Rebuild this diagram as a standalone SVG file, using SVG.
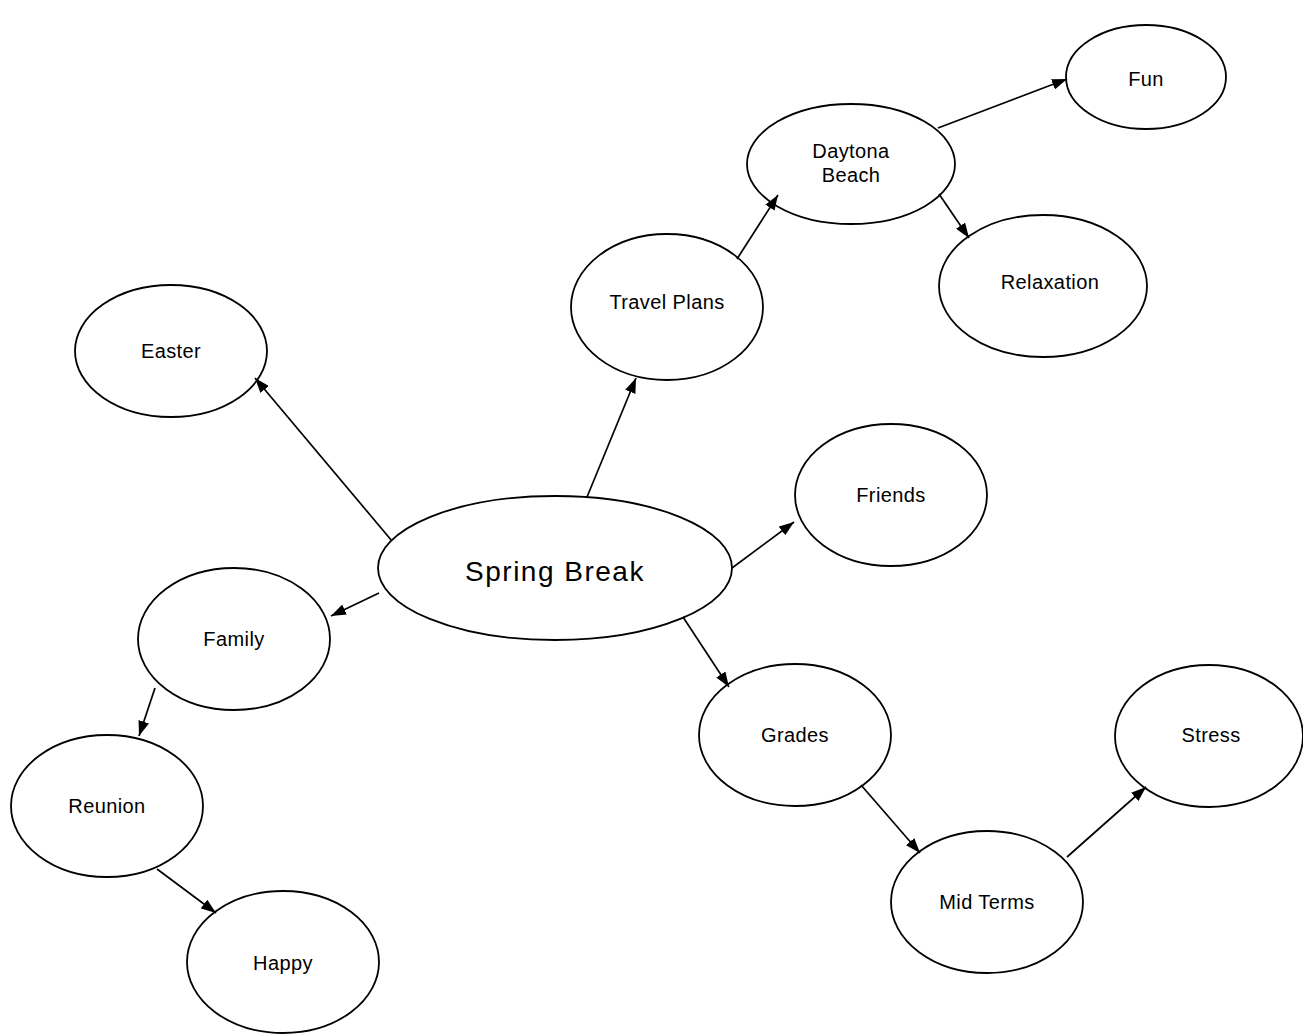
<svg xmlns="http://www.w3.org/2000/svg" width="1303" height="1034" viewBox="0 0 1303 1034">
<style>
.n{fill:#fff;stroke:#000;stroke-width:1.8}
.t{font-family:"Liberation Sans",Arial,sans-serif;font-size:20px;letter-spacing:0.4px;text-anchor:middle;fill:#000}
.big{font-size:28px;letter-spacing:1.5px}
.c line{stroke:#000;stroke-width:1.7;marker-end:url(#ah)}
</style>
<defs>
<marker id="ah" viewBox="0 0 15 11" refX="15" refY="5.5" markerWidth="15" markerHeight="11" markerUnits="userSpaceOnUse" orient="auto">
<path d="M0,0 L15,5.5 L0,11 z" fill="#000"/>
</marker>
</defs>
<rect width="1303" height="1034" fill="#fff"/>
<g id="spring-break"><ellipse class="n" cx="555" cy="568" rx="177" ry="72"/><text class="t big" x="555" y="581">Spring Break</text></g>
<g id="easter"><ellipse class="n" cx="171" cy="351" rx="96" ry="66"/><text class="t" x="171" y="358">Easter</text></g>
<g id="travel-plans"><ellipse class="n" cx="667" cy="307" rx="96" ry="73"/><text class="t" x="667" y="309">Travel Plans</text></g>
<g id="daytona-beach"><ellipse class="n" cx="851" cy="164" rx="104" ry="60"/><text class="t" x="851" y="158">Daytona</text><text class="t" x="851" y="182">Beach</text></g>
<g id="fun"><ellipse class="n" cx="1146" cy="77" rx="80" ry="52"/><text class="t" x="1146" y="86">Fun</text></g>
<g id="relaxation"><ellipse class="n" cx="1043" cy="286" rx="104" ry="71"/><text class="t" x="1050" y="289">Relaxation</text></g>
<g id="friends"><ellipse class="n" cx="891" cy="495" rx="96" ry="71"/><text class="t" x="891" y="502">Friends</text></g>
<g id="family"><ellipse class="n" cx="234" cy="639" rx="96" ry="71"/><text class="t" x="234" y="646">Family</text></g>
<g id="reunion"><ellipse class="n" cx="107" cy="806" rx="96" ry="71"/><text class="t" x="107" y="813">Reunion</text></g>
<g id="happy"><ellipse class="n" cx="283" cy="962" rx="96" ry="71"/><text class="t" x="283" y="970">Happy</text></g>
<g id="grades"><ellipse class="n" cx="795" cy="735" rx="96" ry="71"/><text class="t" x="795" y="742">Grades</text></g>
<g id="stress"><ellipse class="n" cx="1209" cy="736" rx="94" ry="71"/><text class="t" x="1211" y="742">Stress</text></g>
<g id="mid-terms"><ellipse class="n" cx="987" cy="902" rx="96" ry="71"/><text class="t" x="987" y="909">Mid Terms</text></g>
<g class="c" id="connectors">
<line x1="392" y1="541" x2="255" y2="378"/>
<line x1="587" y1="497" x2="636" y2="378"/>
<line x1="737" y1="259" x2="778" y2="195"/>
<line x1="938" y1="128" x2="1067" y2="79"/>
<line x1="939" y1="194" x2="969" y2="238"/>
<line x1="732" y1="568" x2="794" y2="522"/>
<line x1="379" y1="593" x2="331" y2="616"/>
<line x1="155" y1="688" x2="139" y2="736"/>
<line x1="157" y1="869" x2="216" y2="913"/>
<line x1="683" y1="617" x2="729" y2="687"/>
<line x1="861" y1="785" x2="920" y2="853"/>
<line x1="1067" y1="857" x2="1146" y2="787"/>
</g>
</svg>
